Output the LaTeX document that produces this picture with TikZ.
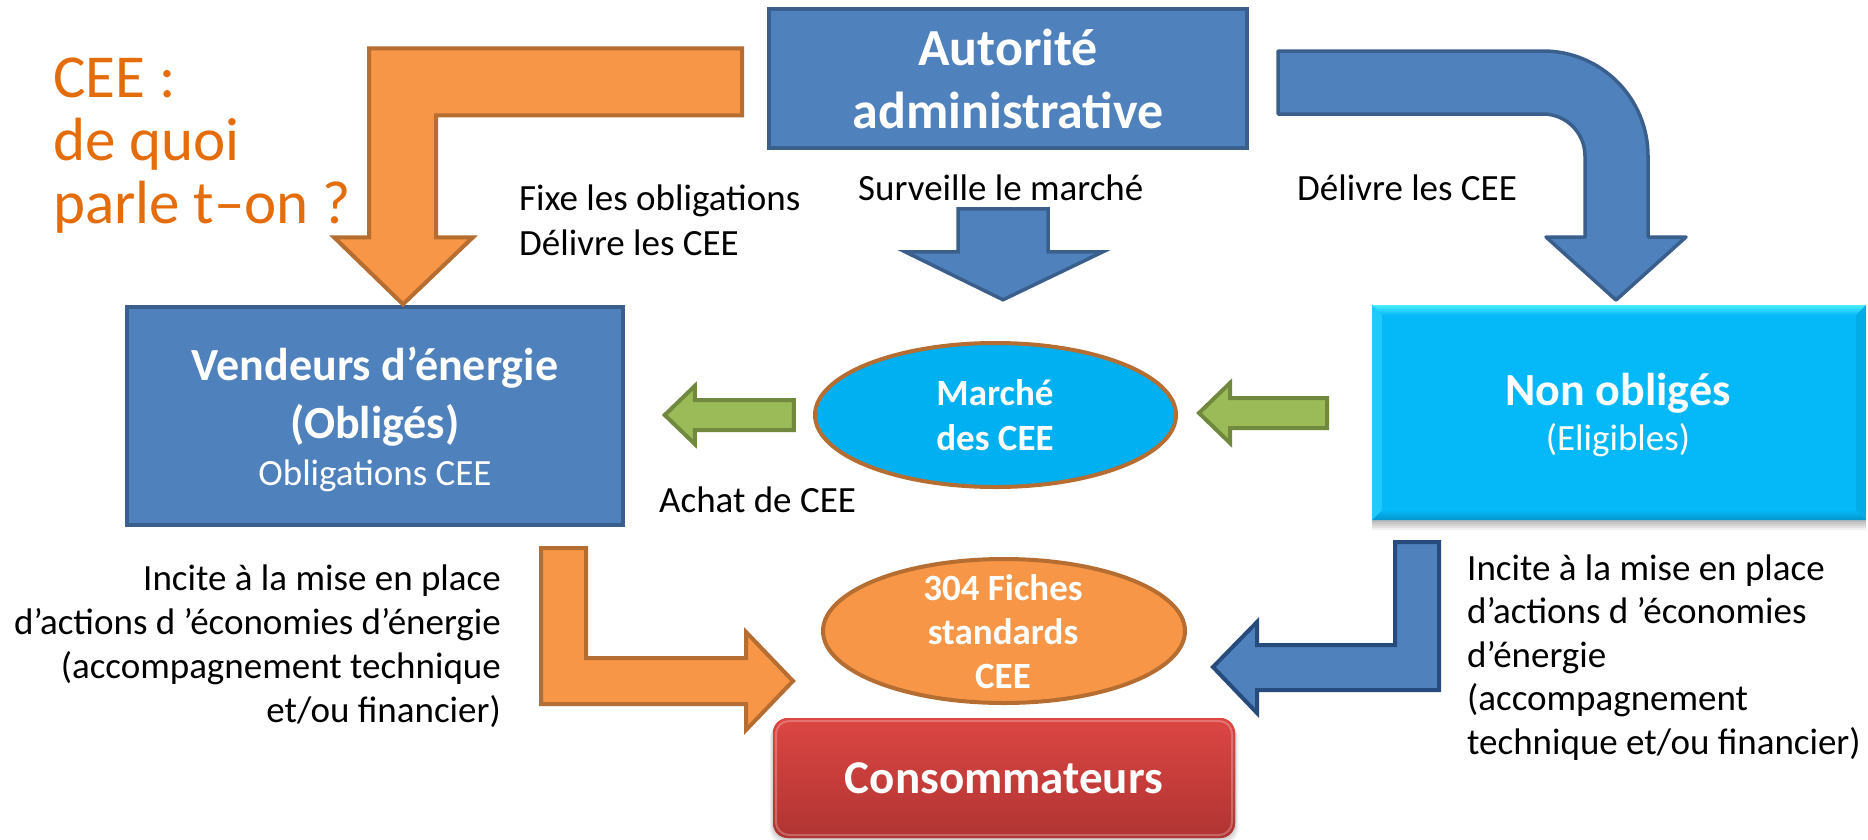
\documentclass[tikz,border=0pt]{standalone}
\usepackage{fontspec}
\setmainfont{Carlito}
\usetikzlibrary{shapes.geometric,calc}

\definecolor{boxblue}{HTML}{4F81BD}
\definecolor{boxblueline}{HTML}{3A5F8C}
\definecolor{navyline}{HTML}{264B7C}
\definecolor{cyanfill}{HTML}{05B8F7}
\definecolor{cyanlight}{HTML}{4AEEFF}
\definecolor{cyandark}{HTML}{0496CC}
\definecolor{marchefill}{HTML}{00B0F0}
\definecolor{orangefill}{HTML}{F79646}
\definecolor{orangeline}{HTML}{B66D31}
\definecolor{greenfill}{HTML}{9BBB59}
\definecolor{greenline}{HTML}{71893F}
\definecolor{titleorange}{HTML}{E46C0A}
\definecolor{redtop}{HTML}{DC4643}
\definecolor{redbottom}{HTML}{B03432}

% stacked lines with a fixed baseline distance; the box baseline is the first line
\newcommand{\rowsC}[2]{\vtop{\baselineskip=#1\relax\lineskiplimit=-\maxdimen\lineskip=0pt\halign{\hfil##\hfil\cr#2\crcr}}}
\newcommand{\rowsL}[2]{\vtop{\baselineskip=#1\relax\lineskiplimit=-\maxdimen\lineskip=0pt\halign{##\hfil\cr#2\crcr}}}
\newcommand{\rowsR}[2]{\vtop{\baselineskip=#1\relax\lineskiplimit=-\maxdimen\lineskip=0pt\halign{\hfil##\cr#2\crcr}}}

\begin{document}
\begin{tikzpicture}[x=1pt,y=-1pt,
  bluebox/.style={draw=boxblueline, fill=boxblue, line width=3.5pt, inner sep=0pt},
  cyanbox/.style={fill=cyanfill, draw=none, inner sep=0pt, outer sep=0pt},
  redbox/.style={top color=redtop, bottom color=redbottom, draw=none, inner sep=0pt, outer sep=0pt, rounded corners=15pt},
  bubble/.style={ellipse, draw=orangeline, line width=4pt, inner sep=0pt},
  orangearrow/.style={fill=orangefill, draw=orangeline, line width=4pt},
  bluearrow/.style={fill=boxblue, draw=boxblueline, line width=3.5pt, line join=round},
  navyarrow/.style={fill=boxblue, draw=navyline, line width=4pt},
  greenarrow/.style={fill=greenfill, draw=greenline, line width=4pt},
  whitetxt/.style={text=white, inner sep=0pt},
  blacktxt/.style={text=black, inner sep=0pt, font=\fontsize{37}{44}\selectfont},
  bold46/.style={font=\bfseries\fontsize{46}{58}\selectfont},
  bold37/.style={font=\bfseries\fontsize{37}{44}\selectfont},
  reg37/.style={font=\fontsize{37}{44}\selectfont}]

\useasboundingbox (0,0) rectangle (1868,839);
\fill[white] (0,0) rectangle (1868,839);

% ---------- title ----------
\node[anchor=base west, inner sep=0pt, text=titleorange,
      font=\fontsize{61}{63}\selectfont] (title) at (53,97)
      {\rowsL{63pt}{CEE :\cr de quoi\cr parle t–on ?}};

% ---------- boxes ----------
\node[bluebox, minimum width=478pt, minimum height=139pt] (auto) at (1008,78.5) {};
\node[bluebox, minimum width=496pt, minimum height=218pt] (vend) at (375,416) {};

% non obligés: soft shadow, body and bevelled edges
\node[cyanbox, minimum width=494pt, minimum height=215pt] (nono) at (1619,412.5) {};
\foreach \s in {2,4,6,8,10}
  \fill[black, opacity=0.06] ($(nono.north west)+(0,\s)$) rectangle ($(nono.south east)+(0,\s)$);
\fill[cyanfill] (nono.north west) rectangle (nono.south east);
\shade[top color=cyanlight, bottom color=cyanfill]
  (nono.north west) -- (nono.north east) -- ($(nono.north east)+(-10,10)$) -- ($(nono.north west)+(10,10)$) -- cycle;
\shade[top color=cyanfill, bottom color=cyandark]
  (nono.south west) -- (nono.south east) -- ($(nono.south east)+(-10,-10)$) -- ($(nono.south west)+(10,-10)$) -- cycle;
\fill[cyanlight, opacity=0.35]
  (nono.north west) -- ($(nono.north west)+(10,10)$) -- ($(nono.south west)+(10,-10)$) -- (nono.south west) -- cycle;
\fill[cyandark, opacity=0.35]
  (nono.north east) -- ($(nono.north east)+(-10,10)$) -- ($(nono.south east)+(-10,-10)$) -- (nono.south east) -- cycle;

\node[bubble, fill=marchefill, minimum width=361pt, minimum height=144pt] (marche) at (995.5,415) {};
\node[bubble, fill=orangefill, minimum width=362pt, minimum height=144pt] (fiches) at (1004,631) {};

% consommateurs: shadow and shaded rounded body
\node[redbox, minimum width=462pt, minimum height=120pt] (cons) at (1004,778) {};
\foreach \s in {2,4,6}
  \fill[black, opacity=0.06, rounded corners=15pt] ($(cons.north west)+(-\s/2,\s)$) rectangle ($(cons.south east)+(\s/2,\s)$);
\shade[top color=redtop, bottom color=redbottom, rounded corners=15pt] (cons.north west) rectangle (cons.south east);
\draw[white, opacity=0.25, line width=2pt, rounded corners=13pt]
  ($(cons.north west)+(3,3)$) rectangle ($(cons.south east)+(-3,-3)$);

% ---------- block arrows ----------
\coordinate (a1tip) at ($(vend.north)+(28,-1)$);
\begin{scope}[shift={(a1tip)}]
  \draw[orangearrow] (0,0) -- (-69,-67) -- (-34,-67) -- (-34,-256) -- (339,-256)
    -- (339,-189) -- (33,-189) -- (33,-67) -- (70,-67) -- cycle;
\end{scope}

\coordinate (a2tip) at ($(auto.south)+(-5,150)$);
\begin{scope}[shift={(a2tip)}]
  \draw[bluearrow, line join=miter] (0,0) -- (-98,-48) -- (-45,-48) -- (-45,-91)
    -- (45,-91) -- (45,-48) -- (100,-48) -- cycle;
\end{scope}

\coordinate (a3tip) at ($(nono.north)+(-3,-5)$);
\begin{scope}[shift={(a3tip)}]
  \draw[bluearrow] (0,0) -- (70,-63) -- (32,-63) -- (32,-144)
    arc[start angle=0, end angle=90, radius=105pt] -- (-338,-249) -- (-338,-186)
    -- (-73,-186) arc[start angle=90, end angle=0, radius=42pt] -- (-31,-63)
    -- (-70,-63) -- cycle;
\end{scope}

\coordinate (g1tip) at ($(vend.east)+(40,-1)$);
\begin{scope}[shift={(g1tip)}]
  \draw[greenarrow] (0,0) -- (30,-29) -- (30,-15) -- (129,-15) -- (129,15)
    -- (30,15) -- (30,29) -- cycle;
\end{scope}

\coordinate (g2tip) at ($(marche.east)+(21,-2)$);
\begin{scope}[shift={(g2tip)}]
  \draw[greenarrow] (0,0) -- (31,-30) -- (31,-15) -- (128,-15) -- (128,15)
    -- (31,15) -- (31,30) -- cycle;
\end{scope}

\coordinate (a4tip) at ($(fiches.west)+(-28,50)$);
\begin{scope}[shift={(a4tip)}]
  \draw[orangearrow] (0,0) -- (-47,49) -- (-47,23) -- (-252,23) -- (-252,-133)
    -- (-207,-133) -- (-207,-23) -- (-47,-23) -- (-47,-49) -- cycle;
\end{scope}

\coordinate (a5tip) at ($(fiches.east)+(26,36)$);
\begin{scope}[shift={(a5tip)}]
  \draw[navyarrow] (0,0) -- (44,-45) -- (44,-22) -- (182,-22) -- (182,-125)
    -- (226,-125) -- (226,23) -- (44,23) -- (44,46) -- cycle;
\end{scope}

% ---------- texts inside shapes ----------
\node[whitetxt, anchor=base, font=\bfseries\fontsize{52}{63}\selectfont] (autolbl) at (1008,65)
  {\rowsC{63pt}{Autorité\cr administrative}};
\node[whitetxt, bold46, anchor=base] (vendlbl) at (375,380)
  {\rowsC{58pt}{Vendeurs d’énergie\cr (Obligés)}};
\node[whitetxt, reg37, anchor=base] (vendsub) at (375,485) {Obligations CEE};
\node[whitetxt, bold46, anchor=base] (nonolbl) at (1618,405) {Non obligés};
\node[whitetxt, reg37, anchor=base] (nonosub) at (1618,450) {(Eligibles)};
\node[whitetxt, bold37, anchor=base] (marchelbl) at (995,405) {\rowsC{45pt}{Marché\cr des CEE}};
\node[whitetxt, bold37, anchor=base] (ficheslbl) at (1003,600) {\rowsC{44pt}{304 Fiches\cr standards\cr CEE}};
\node[whitetxt, anchor=base, font=\bfseries\fontsize{47}{56}\selectfont] (conslbl) at (1004,793) {Consommateurs};

% ---------- arrow labels ----------
\node[blacktxt, anchor=base west] (fixe) at (519,210) {\rowsL{45pt}{Fixe les obligations\cr Délivre les CEE}};
\node[blacktxt, anchor=base west] (surv) at (858,200) {Surveille le marché};
\node[blacktxt, anchor=base west] (deliv) at (1297,200) {Délivre les CEE};
\node[blacktxt, anchor=base west] (achat) at (659,512) {Achat de CEE};
\node[blacktxt, anchor=base east] (incitel) at (501,590)
  {\rowsR{44pt}{Incite à la mise en place\cr d’actions d ’économies d’énergie\cr (accompagnement technique\cr et/ou financier)}};
\node[blacktxt, anchor=base west] (inciter) at (1467,580)
  {\rowsL{43.5pt}{Incite à la mise en place\cr d’actions d ’économies\cr d’énergie\cr (accompagnement\cr technique et/ou financier)}};

\end{tikzpicture}
\end{document}
